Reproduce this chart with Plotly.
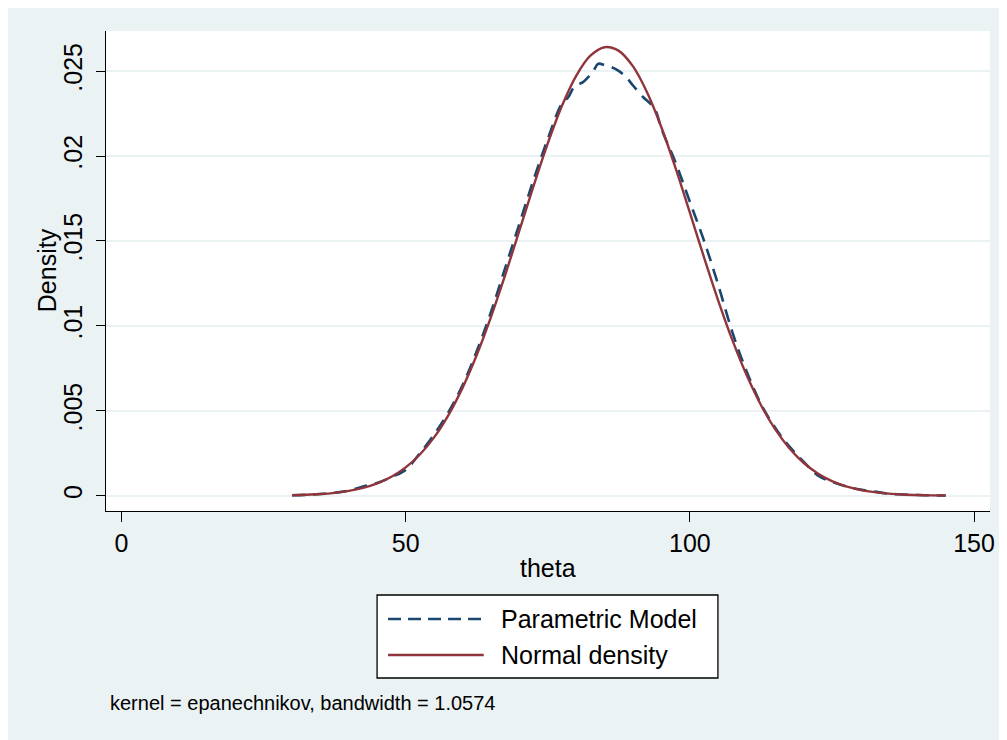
import plotly.graph_objects as go

# ---- data ----
theta_normal = [30, 32.5, 35, 37.5, 40, 42.5, 45, 47.5, 50, 52.5, 55, 57.5, 60, 62.5, 65,
                67.5, 70, 72.5, 75, 77.5, 80, 82.5, 85, 87.5, 90, 92.5, 95, 97.5, 100,
                102.5, 105, 107.5, 110, 112.5, 115, 117.5, 120, 122.5, 125, 127.5, 130,
                132.5, 135, 137.5, 140, 142.5, 145]
dens_normal = [0.000031, 0.000056, 0.000098, 0.000169, 0.000282, 0.000458, 0.000724,
               0.001113, 0.001666, 0.002426, 0.003435, 0.004735, 0.006349, 0.008283,
               0.010513, 0.012983, 0.015601, 0.018238, 0.020745, 0.022962, 0.024724,
               0.025905, 0.026405, 0.026190, 0.025274, 0.023728, 0.021678, 0.019265,
               0.016661, 0.014019, 0.011477, 0.009142, 0.007086, 0.005343, 0.003918,
               0.002797, 0.001942, 0.001312, 0.000863, 0.000552, 0.000344, 0.000208,
               0.000123, 0.000070, 0.000039, 0.000021, 0.000011]

theta_kernel = [30, 32.5, 35, 37.5, 40, 42.5, 45, 47.5, 50, 52.5, 55, 57.5, 60, 62.5, 65,
                67.5, 70, 72.5, 75, 77.5, 78.6, 79.5, 80.3, 81.2, 82.1, 83, 83.9, 85,
                86.2, 87.4, 88.8, 90, 91.8, 93, 94, 95, 97.5, 100, 102.5, 105, 107.5,
                110, 112.5, 115, 117.5, 120, 122.5, 125, 127.5, 130, 132.5, 135, 137.5,
                140, 142.5, 145]
dens_kernel = [0.00003, 0.00005, 0.0001, 0.00017, 0.0003, 0.00054, 0.00075, 0.0011,
               0.00152, 0.0025, 0.0036, 0.0049, 0.0065, 0.0085, 0.0108, 0.0134, 0.0160,
               0.0186, 0.0210, 0.0231, 0.02346, 0.0240, 0.0242, 0.02435, 0.02464,
               0.0250, 0.02543, 0.02535, 0.02523, 0.02503, 0.02464, 0.02415, 0.02346,
               0.0231, 0.02265, 0.0216, 0.0196, 0.0173, 0.0150, 0.0124, 0.0096, 0.0073,
               0.0054, 0.0040, 0.0029, 0.0020, 0.0012, 0.00082, 0.00055, 0.00036,
               0.00024, 0.00012, 0.00007, 0.00004, 0.00002, 0.00001]

x_ticks = [0, 50, 100, 150]
x_tick_labels = ["0", "50", "100", "150"]
y_ticks = [0, 0.005, 0.01, 0.015, 0.02, 0.025]
y_tick_labels = ["0", ".005", ".01", ".015", ".02", ".025"]

series_names = ["Parametric Model", "Normal density"]
x_title = "theta"
y_title = "Density"
note = "kernel = epanechnikov, bandwidth = 1.0574"

# ---- style ----
NAVY = "#1a476f"
MAROON = "#90353b"
BG = "#eaf2f3"
FONT = "Liberation Sans, Arial, sans-serif"
OFF = 8  # page body margin offset
W, H = 1007 - OFF, 740 - OFF
PL, PR, PT, PB = 106, 993, 31, 511  # plot area in page pixels
L, T = PL - OFF, PT - OFF
R = W - (PR - OFF)
B = H - (PB - OFF)
PW, PH = PR - PL, PB - PT


def px(xp):
    return (xp - PL) / PW


def py(yp):
    return (PB - yp) / PH


fig = go.Figure()
fig.add_trace(go.Scatter(x=theta_kernel, y=dens_kernel, mode="lines", name=series_names[0],
                         line=dict(color=NAVY, width=2.6, dash="13px,8px", shape="spline"),
                         showlegend=False))
fig.add_trace(go.Scatter(x=theta_normal, y=dens_normal, mode="lines", name=series_names[1],
                         line=dict(color=MAROON, width=2.4, shape="spline"),
                         showlegend=False))

shapes = [
    # legend box
    dict(type="rect", xref="paper", yref="paper", x0=px(378), x1=px(720), y0=py(678), y1=py(595),
         fillcolor="white", line=dict(color="black", width=1.3)),
    dict(type="line", xref="paper", yref="paper", x0=px(389), x1=px(485), y0=py(619), y1=py(619),
         line=dict(color=NAVY, width=2.6, dash="13px,7px")),
    dict(type="line", xref="paper", yref="paper", x0=px(389), x1=px(485), y0=py(655), y1=py(655),
         line=dict(color=MAROON, width=2.4)),
]

annotations = [
    dict(text=series_names[0], xref="paper", yref="paper", x=px(500), y=py(619),
         xanchor="left", yanchor="middle", showarrow=False, font=dict(size=25, color="black")),
    dict(text=series_names[1], xref="paper", yref="paper", x=px(500), y=py(655),
         xanchor="left", yanchor="middle", showarrow=False, font=dict(size=25, color="black")),
    dict(text=x_title, xref="paper", yref="paper", x=px(549), y=py(568),
         xanchor="center", yanchor="middle", showarrow=False, font=dict(size=25, color="black")),
    dict(text=y_title, xref="paper", yref="paper", x=px(47), y=py(270), textangle=-90,
         xanchor="center", yanchor="middle", showarrow=False, font=dict(size=25, color="black")),
    dict(text=note, xref="paper", yref="paper", x=px(108), y=py(703),
         xanchor="left", yanchor="middle", showarrow=False, font=dict(size=20, color="black")),
]

fig.update_layout(
    width=W, height=H,
    margin=dict(l=L, r=R, t=T, b=B, pad=0),
    paper_bgcolor=BG, plot_bgcolor="white",
    font=dict(family=FONT, color="black"),
    shapes=shapes, annotations=annotations,
    showlegend=False,
)
fig.update_xaxes(
    range=[-2.72, 152.8], tickvals=x_ticks, ticktext=x_tick_labels,
    showgrid=False, zeroline=False, showline=True, linecolor="black", linewidth=1.3,
    ticks="outside", ticklen=10, tickwidth=1.3, tickcolor="black",
    tickfont=dict(size=25, family=FONT, color="black"),
)
fig.update_yaxes(
    range=[-0.0009, 0.02736], tickvals=y_ticks, ticktext=y_tick_labels,
    showgrid=True, gridcolor=BG, gridwidth=1.5, zeroline=False,
    showline=True, linecolor="black", linewidth=1.3,
    ticks="outside", ticklen=9, tickwidth=1.3, tickcolor="black",
    tickangle=-90, ticklabelstandoff=4,
    tickfont=dict(size=25, family=FONT, color="black"),
)

fig.write_html("out.html")
